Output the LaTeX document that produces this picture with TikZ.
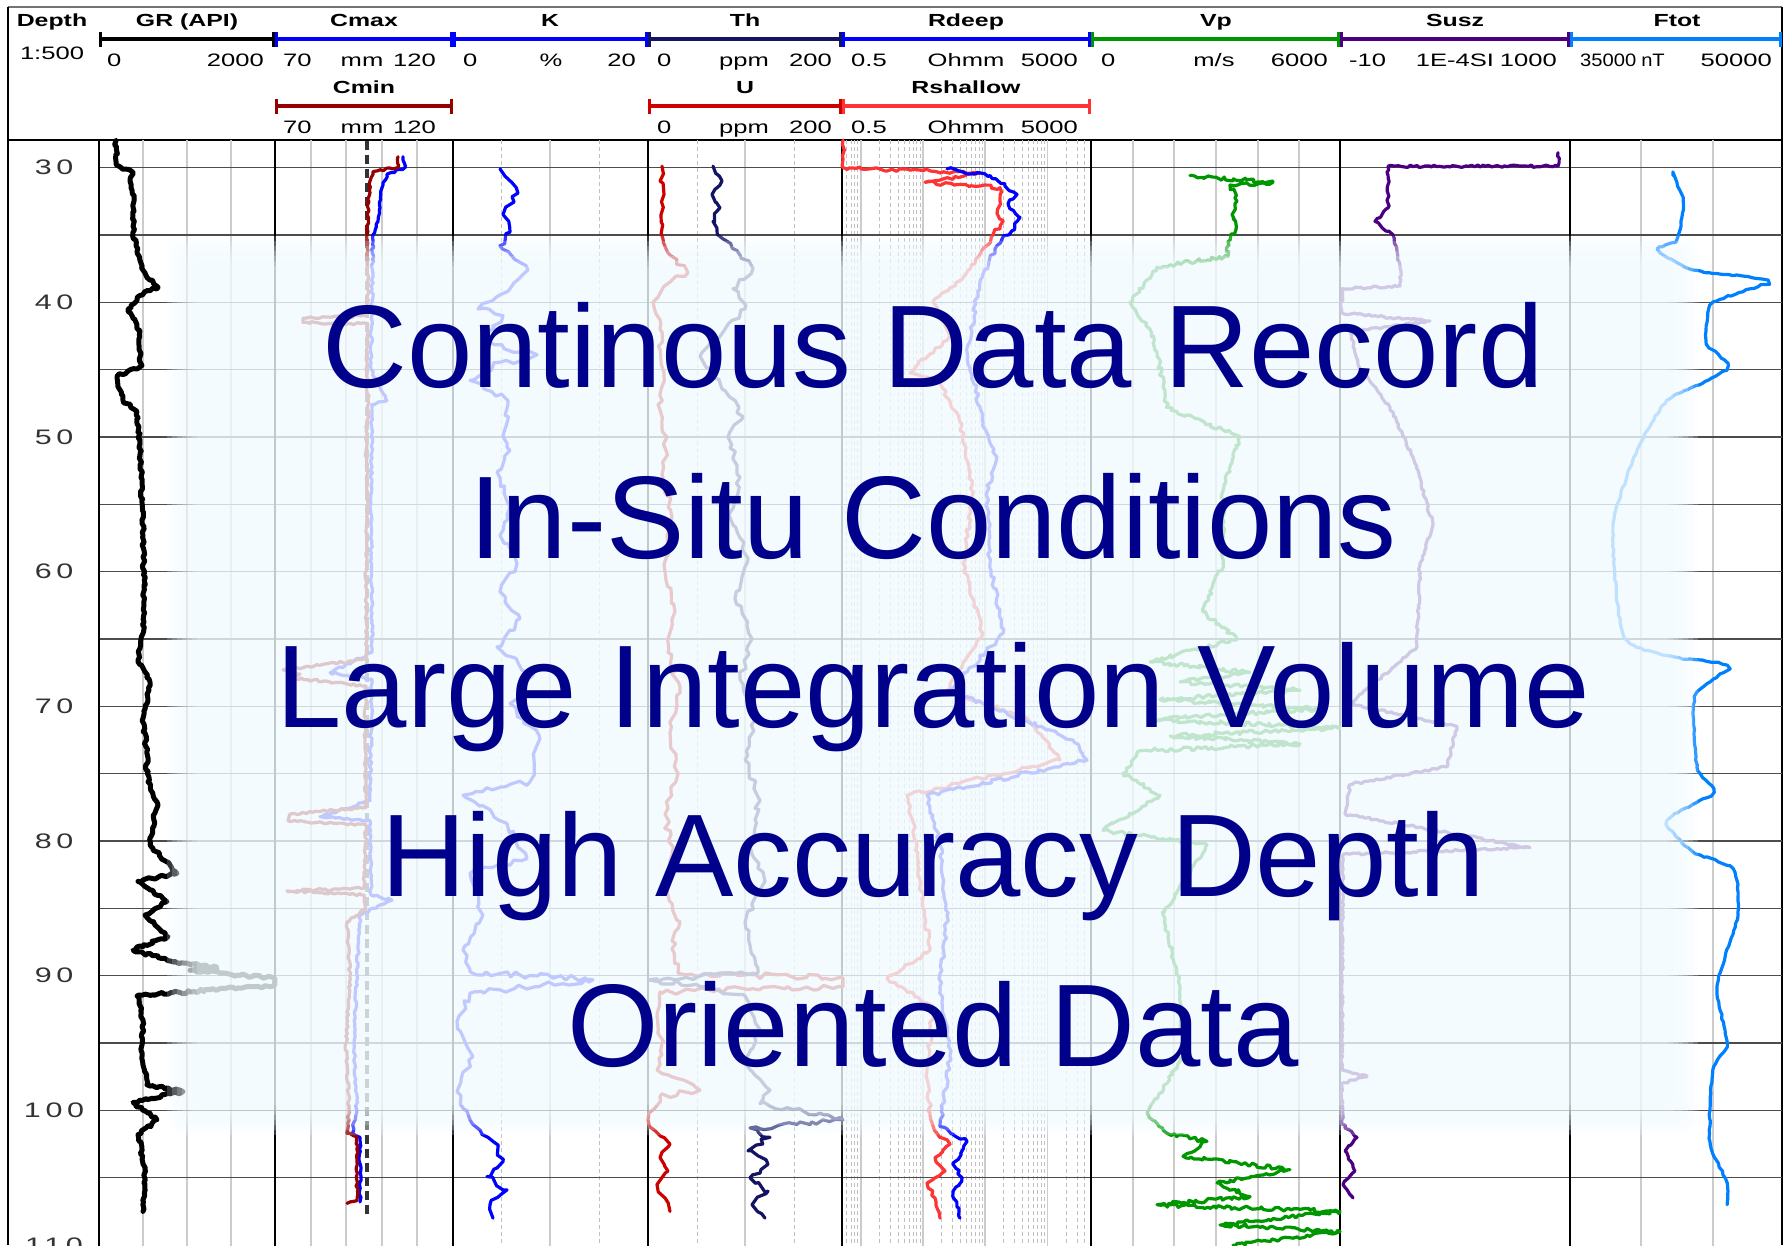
\documentclass[tikz,border=0pt]{standalone}
\usepackage{fontspec}
\setmainfont{Liberation Sans}
\newfontfamily\hdrfont[FakeStretch=1.42]{Liberation Sans}
\newfontfamily\hdrnarrow[FakeStretch=1.12]{Liberation Sans}
\newfontfamily\depfont[FakeStretch=1.45,LetterSpace=22]{Liberation Sans}
\usetikzlibrary{arrows.meta,decorations.pathmorphing}
\definecolor{thnavy}{RGB}{20,20,100}
\definecolor{cminred}{RGB}{150,0,0}
\definecolor{ured}{RGB}{205,0,0}
\definecolor{rshred}{RGB}{255,51,51}
\definecolor{vpgreen}{RGB}{0,150,0}
\definecolor{suszpurple}{RGB}{75,0,130}
\definecolor{ftotblue}{RGB}{0,128,255}
\definecolor{boxfill}{RGB}{240,250,254}
\definecolor{headblue}{RGB}{0,0,139}

\begin{document}
\begin{tikzpicture}[x=1pt, y=-1pt,
  track/.style = {line width=2.2pt, black},
  gridv/.style = {line width=1.6pt, black!20},
  gridd/.style = {line width=1pt, black!25, dash pattern=on 4pt off 3pt},
  gridh/.style = {line width=1.3pt, black!70},
  scalebar/.style = {line width=3.5pt, {Bar[width=15pt,line width=3pt]}-{Bar[width=15pt,line width=3pt]}},
  title/.style = {font=\hdrfont\bfseries\fontsize{17.5}{19}\selectfont, inner sep=0pt, anchor=base},
  scaletxt/.style = {font=\hdrfont\fontsize{18}{20}\selectfont, inner sep=0pt},
  narrowtxt/.style = {font=\hdrnarrow\fontsize{18}{20}\selectfont, inner sep=0pt},
  deptxt/.style = {font=\depfont\fontsize{21}{22}\selectfont, text=black!80, inner sep=0pt},
  logline/.style = {line width=3.2pt, line join=round, line cap=round, decorate, decoration={random steps, segment length=3pt, amplitude=1.2pt}},
  wavy/.style = {logline, decoration={random steps, segment length=6pt, amplitude=3pt}},
  headline/.style = {font=\fontsize{117.5}{120}\selectfont, text=headblue, anchor=base, inner sep=0pt}]

    \pgfmathsetseed{4711}
    \useasboundingbox (0,0) rectangle (1790,1245);
    \clip (0,0) rectangle (1790,1245);

    % header
    \draw[black!55, line width=1.5pt] (8,7) -- (1782,7);
    \draw[track] (8,7) -- (8,1245);
    \draw[track] (1782,7) -- (1782,1245);
    \draw[track] (8,140) -- (1782,140);

    \node[title] (tdepth) at (52,26) {Depth};
    \node[scaletxt, anchor=base] (tscale) at (52,59) {1:500};
    \foreach \xp/\txt [count=\n] in {187/GR (API), 364/Cmax, 550/K, 745/Th, 966/Rdeep, 1216/Vp, 1455/Susz, 1677/Ftot}
        \node[title] (ttop\n) at (\xp,26) {\txt};
    \foreach \xp/\txt [count=\n] in {364/Cmin, 745/U, 966/Rshallow}
        \node[title] (tlow\n) at (\xp,93) {\txt};

    \foreach \xa/\xb/\col in {99/275/black, 275/453/blue, 453/648/blue, 648/842/thnavy, 842/1091/blue, 1091/1340/vpgreen, 1340/1570/suszpurple, 1570/1782/ftotblue}
        \draw[scalebar, \col] (\xa,39) -- (\xb,39);
    \foreach \xa/\xb/\col in {275/453/cminred, 648/842/ured, 842/1091/rshred}
        \draw[scalebar, \col] (\xa,106) -- (\xb,106);

    \foreach \xp/\anc/\txt [count=\n] in {107/base west/0, 264/base east/2000, 283/base west/70, 362/base/mm, 436/base east/120,
        463/base west/0, 551/base/\%, 636/base east/20, 657/base west/0, 744/base/ppm, 832/base east/200,
        851/base west/0.5, 966/base/Ohmm, 1078/base east/5000, 1101/base west/0, 1214/base/{m/s}, 1328/base east/6000,
        1349/base west/-10, 1455/base/1E-4SI, 1557/base east/1000, 1772/base east/50000}
        \node[scaletxt, anchor=\anc] (ltop\n) at (\xp,66.5) {\txt};
    \foreach \xp/\anc/\txt [count=\n] in {1580/base west/35000, 1653/base/nT}
        \node[narrowtxt, anchor=\anc] (lnar\n) at (\xp,66.5) {\txt};
    \foreach \xp/\anc/\txt [count=\n] in {283/base west/70, 362/base/mm, 436/base east/120,
        657/base west/0, 744/base/ppm, 832/base east/200, 851/base west/0.5, 966/base/Ohmm, 1078/base east/5000}
        \node[scaletxt, anchor=\anc] (llow\n) at (\xp,133) {\txt};

    % depth scale: y in metres
    \begin{scope}[shift={(0,-236.6)}, y=-13.47pt]

    % grid
    \foreach \xp in {143,187,231, 311,346,382,417, 550, 745, 1133,1174,1216,1258,1299, 1641,1713}
        \draw[gridv] (\xp,27.96) -- (\xp,110.5);
    \foreach \xp in {501,599, 697,794}
        \draw[gridd] (\xp,27.96) -- (\xp,110.5);
    \foreach \j in {-1,...,3}
        \foreach \m in {1,...,9} {
            \pgfmathsetmacro\lx{842+62.25*(log10(\m)+\j+0.30103)}
            \ifdim\lx pt>844pt \ifdim\lx pt<1089pt
                \ifnum\m=1 \draw[gridv] (\lx,27.96) -- (\lx,110.5);
                \else \draw[gridd] (\lx,27.96) -- (\lx,110.5); \fi
            \fi\fi
        }
    \foreach \d in {30,35,...,105}
        \draw[gridh] (99,\d) -- (1782,\d);
    \foreach \xp in {99,275,453,648,842,1091,1340,1570}
        \draw[track] (\xp,27.96) -- (\xp,110.5);

    \foreach \d in {30,40,...,110}
        \node[deptxt] (dep\d) at (54,\d) {\d};

    % logs
    \draw[logline, black, line width=5pt, decoration={random steps, segment length=3pt, amplitude=1.6pt}] plot coordinates {(116,28) (116,29.8) (132,30.3) (131,31.5) (134,32.5) (133,34.8) (136,35.8) (140,36.9) (146,38) (158,38.9) (140,39.5) (128,40.5) (133,41.2) (140,42.1) (139,43.5) (142,44.7) (117,45.5) (123,47.3) (137,48.1) (140,50.5) (141,53) (143,57.3) (144,61) (143,64.6) (138,66.7) (150,68.2) (143,70.9) (146,73) (148,75.6) (157,77.1) (150,80.3) (177,82.4) (138,83) (167,84.5) (145,85.5) (168,87.1) (133,88.1) (170,88.9) (217,89.4) (190,89.6) (275,90.2) (275,90.7) (137,91.5) (143,93.4) (142,96) (147,98.1) (183,98.6) (133,99.4) (157,100.7) (138,101.8) (145,104.4) (143,107.5)};

    \draw[black!80, line width=4.5pt, dash pattern=on 9pt off 5pt] (367,28) -- (367,107.8);
    \draw[logline, blue] plot coordinates {(403,29.2) (405,30) (387,30.5) (382,31.5) (380,33) (378,34) (373,35) (372,40) (371,45) (387,47.3) (372,47.6) (371,55) (372,66) (330,67.5) (372,68) (370,77) (320,78.2) (370,78.5) (371,84) (392,84.4) (360,85.5) (357,90) (354,95) (357,100) (352,101.7) (360,102) (360,106.8)};
    \draw[logline, cminred] plot coordinates {(398,29.2) (398,30) (373,30.3) (370,31) (368,33) (367,35) (368,38) (367,41) (303,41.2) (303,41.5) (368,41.6) (366,45) (369,47.5) (366,50) (368,55) (366,60) (367,66.5) (283,67.3) (300,67.6) (290,67.9) (330,68.2) (366,68.5) (365,72) (366,77.5) (290,78) (288,78.5) (366,78.8) (364,83.5) (287,83.7) (364,84) (366,85) (347,86) (350,90) (346,95) (349,100) (347,101.7) (357,102) (357,106.7) (347,106.9)};

    \draw[wavy, blue] plot coordinates {(500,30.1) (518,31.9) (503,33.5) (510,34.8) (500,35.8) (528,37.6) (510,39) (478,40.5) (503,41) (483,43.1) (537,43.9) (493,44.7) (470,45.8) (508,47.3) (503,50) (510,51) (497,52.6) (510,55.2) (500,57.3) (517,59.4) (500,61.5) (520,63.5) (497,65.6) (533,67.7) (510,69.8) (540,72.4) (530,75.6) (463,76.6) (507,78.7) (527,81.3) (470,82.4) (483,85.5) (463,88.1) (470,89.7) (593,90.3) (470,91.3) (457,93.4) (473,96) (457,98.6) (470,100.7) (493,102.3) (503,103.8) (487,104.9) (507,105.9) (490,107) (493,108)};

    \draw[wavy, ured] plot coordinates {(662,29.9) (660,31) (664,32) (661,33.5) (663,35.3) (670,36.5) (688,37.8) (670,38.5) (653,40) (660,42) (663,45) (660,48) (667,50) (663,53) (672,56) (665,60) (675,63) (668,66) (680,69) (670,72) (678,75) (665,78) (672,81) (668,84) (680,86) (672,88) (678,89.8) (843,90.2) (843,90.8) (660,91.2) (657,93) (662,95) (657,97) (700,98.5) (660,99) (648,100.7) (655,101.5) (670,102.5) (660,103.5) (668,104.5) (657,105.5) (665,106.5) (670,107.5)};
    \draw[wavy, thnavy] plot coordinates {(713,29.9) (722,31) (712,32) (720,33) (713,34) (723,35.3) (740,36.5) (753,37.5) (733,39) (745,40.5) (725,42) (700,44) (720,46) (743,48.5) (728,50) (740,53) (730,56) (748,59) (735,62) (752,65) (740,68) (755,71) (745,74) (760,77) (750,80) (765,83) (745,86) (758,89.8) (648,90.3) (700,90.8) (745,91.5) (760,94) (745,96.5) (770,98.5) (760,99.5) (843,100.7) (750,101.3) (770,102) (748,103) (768,104) (750,105) (768,106) (752,107) (765,108)};

    \draw[logline, rshred, decoration={random steps, segment length=4pt, amplitude=2pt}] plot coordinates {(843,27.96) (843,30) (980,30.4) (925,31.1) (1000,31.5) (1000,32.5) (997,33.4) (1003,34) (993,35) (987,35.8) (960,38.4) (933,40) (950,42.5) (910,45.2) (940,46) (960,48.9) (973,54.1) (963,59.4) (983,64.6) (947,68.8) (1027,70.9) (1060,74) (907,76.6) (917,80.3) (920,82.9) (930,88.1) (887,90.2) (933,92.3) (927,97) (930,100.2) (937,101.7) (950,102.5) (935,103.5) (945,104.5) (927,105.4) (935,106.5) (940,108)};
    \draw[logline, blue, decoration={random steps, segment length=4pt, amplitude=2pt}] plot coordinates {(947,30.1) (990,30.6) (1017,32) (1008,32.7) (1020,33.7) (1012,34.7) (1002,35.3) (997,35.8) (980,38.4) (967,43.7) (983,48.9) (997,51.5) (987,54.1) (990,59.4) (1003,64.6) (950,68.8) (1073,72.5) (1087,74) (927,76.6) (940,80.3) (947,85.5) (940,90.8) (950,96) (940,101.2) (967,102.3) (953,104) (962,105) (953,106) (960,108)};

    \draw[logline, vpgreen, decoration={random steps, segment length=3pt, amplitude=2pt}] plot coordinates {(1190,30.6) (1273,31.1) (1230,31.3) (1237,32.5) (1232,33.5) (1236,34.5) (1228,35.5) (1228,36.6) (1157,37.4) (1130,40) (1150,42) (1157,43.7) (1167,47.8) (1240,50) (1223,54) (1223,59.4) (1203,63) (1237,65) (1150,66.7) (1250,67.5) (1180,68.2) (1300,68.8) (1160,69.5) (1320,70.2) (1150,71) (1340,71.6) (1170,72.2) (1300,72.8) (1140,73.3) (1123,75) (1160,76.6) (1103,79.2) (1207,80.3) (1163,85.5) (1180,90.8) (1183,96) (1147,100.2) (1167,101.7) (1207,102.3) (1183,103.4) (1290,104.4) (1217,105.4) (1250,106.4) (1157,107) (1340,107.5) (1220,108.5) (1340,109) (1233,110)};

    \draw[logline, suszpurple] plot coordinates {(1558,28.9) (1558,29.9) (1388,29.9) (1388,33) (1375,34) (1393,35) (1400,37.5) (1400,38.8) (1342,39) (1342,40.8) (1430,41.4) (1350,42.2) (1360,45) (1390,47.8) (1413,51.5) (1433,56.5) (1420,59.4) (1417,65.6) (1350,69.8) (1457,71.5) (1447,74.5) (1350,75.8) (1345,78) (1530,80.5) (1343,81) (1342,90) (1342,97) (1367,97.5) (1342,98) (1342,101) (1357,102) (1345,103) (1355,104.5) (1343,105.5) (1353,106.5)};

    \draw[logline, ftotblue, decoration={random steps, segment length=4pt, amplitude=0.8pt}] plot[smooth, tension=0.4] coordinates {(1673,30.6) (1683,32.5) (1677,35.3) (1658,36.1) (1693,37.6) (1768,38.4) (1713,40) (1707,41.5) (1707,43.1) (1728,44.7) (1703,46) (1667,47.3) (1637,51) (1613,56.7) (1623,64.6) (1663,66.2) (1727,67) (1695,69.3) (1697,74.5) (1713,76.4) (1667,78.5) (1693,80.8) (1733,82.1) (1738,85.5) (1717,90.8) (1727,95) (1713,97) (1710,102.3) (1727,105.4) (1727,107)};
    \end{scope}

    % overlay
    \foreach \k in {0,...,6}
        \fill[boxfill, fill opacity=0.21, rounded corners=14pt] ({167+5*\k},{236+5*\k}) rectangle ({1698-5*\k},{1135-5*\k});

    \foreach \txt/\yb [count=\n] in {Continous Data Record/387, In-Situ Conditions/558, Large Integration Volume/727, High Accuracy Depth/896, Oriented Data/1066}
        \node[headline] (line\n) at (933,\yb) {\txt};

\end{tikzpicture}
\end{document}
